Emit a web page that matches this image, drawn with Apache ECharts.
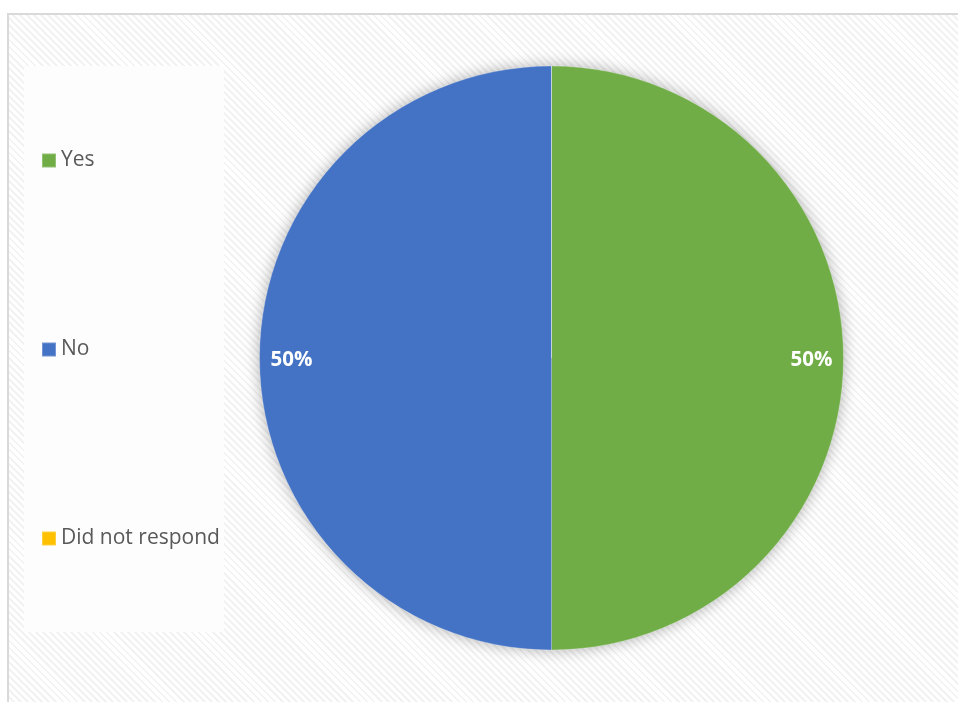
<!DOCTYPE html>
<html>
<head>
<meta charset="utf-8">
<script src="https://cdn.jsdelivr.net/npm/echarts@6/dist/echarts.min.js"></script>
<style>
  html, body { margin: 0; padding: 0; background: #ffffff; }
  #wrap { position: relative; width: 958px; height: 702px; overflow: hidden; }
  #frame {
    position: absolute; left: 7px; top: 13px; width: 980px; height: 720px;
    border: 2px solid #d9d9d9; box-sizing: border-box;
    background: repeating-linear-gradient(45deg, #ffffff 0px, #ffffff 3px, #f2f2f2 3px, #f2f2f2 5px);
  }
  #legendBox {
    position: absolute; left: 24px; top: 66px; width: 200px; height: 566px;
    background: #fdfdfd;
  }
  #chart { position: absolute; left: 0; top: 0; width: 958px; height: 702px; }
</style>
</head>
<body>
<div id="wrap">
  <div id="frame"></div>
  <div id="legendBox"></div>
  <div id="chart"></div>
</div>
<script>
  // Survey responses
  const categories = ['Yes', 'No', 'Did not respond'];
  const values = [50, 50, 0];
  const colors = ['#70AD47', '#4472C4', '#FFC000'];

  const chart = echarts.init(document.getElementById('chart'), null, { renderer: 'canvas' });
  const total = values.reduce((a, b) => a + b, 0);
  const pieData = categories.map((name, i) => ({ name, value: values[i] }));
  const center = [551.5, 358];
  const outerR = 292;

  chart.setOption({
    backgroundColor: 'transparent',
    color: colors,
    animation: false,
    legend: {
      orient: 'vertical',
      left: 41,
      top: 150,
      padding: 0,
      itemWidth: 14,
      itemHeight: 14,
      itemGap: 168,
      itemTextGap: 6,
      icon: 'rect',
      selectedMode: false,
      textStyle: { fontFamily: 'Open Sans', fontSize: 21, color: '#595959' },
      data: categories
    },
    series: [{
      // soft drop shadow under the whole disc
      type: 'pie',
      silent: true,
      z: 1,
      center: center,
      radius: [0, outerR - 1],
      itemStyle: {
        color: '#9a9a9a',
        shadowBlur: 16,
        shadowColor: 'rgba(0,0,0,0.35)'
      },
      label: { show: false },
      labelLine: { show: false },
      emphasis: { disabled: true },
      data: [{ name: 'shadow', value: total }]
    }, {
      // the pie itself
      type: 'pie',
      z: 2,
      center: center,
      radius: [0, outerR],
      startAngle: 90,
      clockwise: true,
      itemStyle: {
        borderColor: 'rgba(255,255,255,0.25)',
        borderWidth: 1
      },
      label: { show: false },
      labelLine: { show: false },
      emphasis: { disabled: true },
      data: pieData
    }, {
      // percentage labels placed near the rim
      type: 'pie',
      silent: true,
      z: 3,
      center: center,
      radius: [222, outerR],
      startAngle: 90,
      clockwise: true,
      itemStyle: { color: 'rgba(0,0,0,0)', borderWidth: 0 },
      label: {
        position: 'inside',
        color: '#ffffff',
        fontFamily: 'Open Sans',
        fontWeight: 'bold',
        fontSize: 20.5,
        offset: [0, 2],
        formatter: p => p.value > 0 ? Math.round(p.value / total * 100) + '%' : ''
      },
      labelLine: { show: false },
      emphasis: { disabled: true },
      data: pieData
    }]
  });
</script>
</body>
</html>
